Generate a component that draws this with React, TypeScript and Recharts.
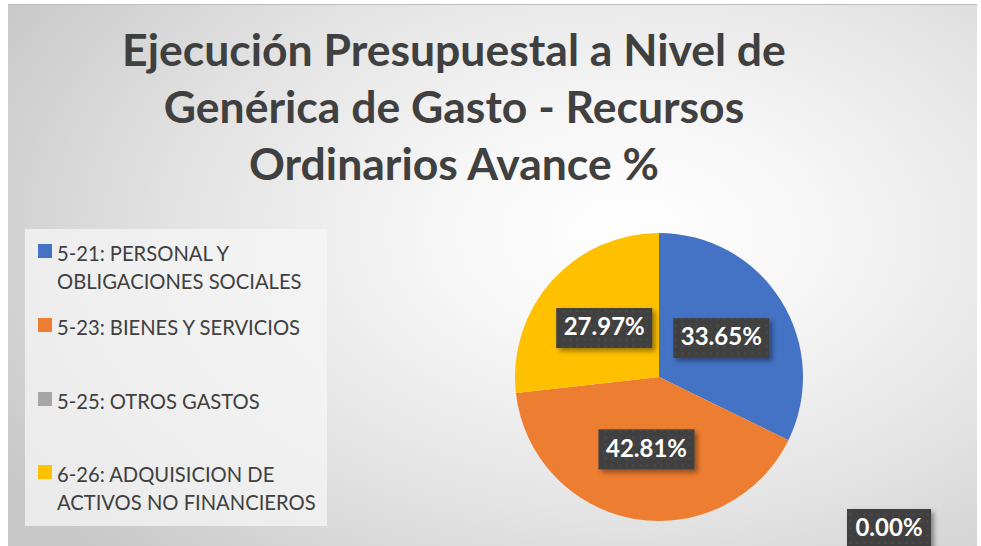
import React from "react";
import { PieChart, Pie, Cell } from "recharts";

const CATEGORIES = [
	"5-21: PERSONAL Y OBLIGACIONES SOCIALES",
	"5-23: BIENES Y SERVICIOS",
	"5-25: OTROS GASTOS",
	"6-26: ADQUISICION DE ACTIVOS NO FINANCIEROS",
];
const LEGEND_LINES = [
	["5-21: PERSONAL Y", "OBLIGACIONES SOCIALES"],
	["5-23: BIENES Y SERVICIOS"],
	["5-25: OTROS GASTOS"],
	["6-26: ADQUISICION DE", "ACTIVOS NO FINANCIEROS"],
];
const AVANCE = [33.65, 42.81, 0.0, 27.97];
const COLORS = ["#4472c4", "#ed7d31", "#a5a5a5", "#ffc000"];
const TITLE = ["Ejecución Presupuestal a Nivel de", "Genérica de Gasto - Recursos", "Ordinarios Avance %"];

const data = CATEGORIES.map((name, i) => ({ name, value: AVANCE[i], fill: COLORS[i] }));

const W = 981;
const H = 546;
const RAD = Math.PI / 180;
const FONT = "Lato, 'Open Sans', sans-serif";

// Excel dragged the empty slice's label off to the bottom right
const DETACHED = { dx: 230, dy: 152 };

function renderLabel(props: any) {
	const { cx, cy, midAngle, outerRadius, value, index } = props;
	let x: number, y: number;
	if (value === 0) {
		x = cx + DETACHED.dx;
		y = cy + DETACHED.dy;
	} else {
		const r = outerRadius * 0.51;
		x = cx + r * Math.cos(-midAngle * RAD);
		y = cy + r * Math.sin(-midAngle * RAD);
	}
	const bw = value === 0 ? 84 : 96;
	const bh = 40;
	return (
		<g key={`lbl-${index}`}>
			<rect x={x - bw / 2} y={y - bh / 2} width={bw} height={bh} fill="#404040" filter="url(#lblShadow)" />
			<rect x={x - bw / 2} y={y - bh / 2} width={bw} height={bh} fill="url(#dots)" />
			<text
				x={x}
				y={y + 1}
				textAnchor="middle"
				dominantBaseline="middle"
				fill="#ffffff"
				fontFamily={FONT}
				fontWeight={700}
				fontSize={24}
			>
				{value.toFixed(2)}%
			</text>
		</g>
	);
}

const LEGEND_ROWS = [29, 103, 177, 250];

function LegendBox() {
	return (
		<div
			style={{
				position: "absolute",
				left: 25,
				top: 229,
				width: 302,
				height: 297,
				background: "rgba(245,245,245,0.75)",
				fontFamily: FONT,
				color: "#404040",
				fontSize: 20.2,
			}}
		>
			{LEGEND_LINES.map((lines, i) => (
				<div key={i} style={{ position: "absolute", left: 13, top: LEGEND_ROWS[i] - 19 }}>
					<div
						style={{
							position: "absolute",
							left: 0,
							top: 5,
							width: 14,
							height: 14,
							background: COLORS[i],
						}}
					/>
					{lines.map((l, j) => (
						<div key={j} style={{ marginLeft: 19, lineHeight: "28px", whiteSpace: "nowrap" }}>
							{l}
						</div>
					))}
				</div>
			))}
		</div>
	);
}

export default function App() {
	return (
		<div
			style={{
				position: "absolute",
				left: 0,
				top: 0,
				width: W,
				height: H,
				overflow: "hidden",
				background: "#ffffff",
			}}
		>
			<div
				style={{
					position: "absolute",
					left: 8,
					top: 4,
					width: 969,
					height: 545,
					borderTop: "1px solid #bdbdbd",
					background:
						"radial-gradient(ellipse 75% 85% at 64% 42%, #ffffff 0%, #f7f7f7 25%, #e4e4e4 60%, #c8c8c8 100%)",
				}}
			/>
			<div
				style={{
					position: "absolute",
					left: 0,
					width: 908,
					top: 20,
					textAlign: "center",
					fontFamily: FONT,
					fontWeight: 700,
					fontSize: 44.5,
					lineHeight: "57px",
					color: "#404040",
				}}
			>
				{TITLE.map((t) => (
					<div key={t}>{t}</div>
				))}
			</div>
			<LegendBox />
			<PieChart
				width={W}
				height={H}
				margin={{ top: 0, right: 0, bottom: 0, left: 0 }}
				style={{ position: "absolute", left: 0, top: 0 }}
			>
				<defs>
					<pattern id="dots" width="7" height="7" patternUnits="userSpaceOnUse">
						<circle cx="3.5" cy="3.5" r="1" fill="#4d4d4d" />
					</pattern>
					<filter id="lblShadow" x="-20%" y="-20%" width="150%" height="160%">
						<feDropShadow dx="3" dy="3" stdDeviation="2.5" floodColor="#000" floodOpacity="0.4" />
					</filter>
				</defs>
				<Pie
					data={data}
					dataKey="value"
					nameKey="name"
					cx={659}
					cy={377}
					outerRadius={144}
					startAngle={90}
					endAngle={-270}
					stroke="none"
					labelLine={false}
					label={renderLabel}
					isAnimationActive={false}
				>
					{data.map((d) => (
						<Cell key={d.name} fill={d.fill} />
					))}
				</Pie>
			</PieChart>
		</div>
	);
}
